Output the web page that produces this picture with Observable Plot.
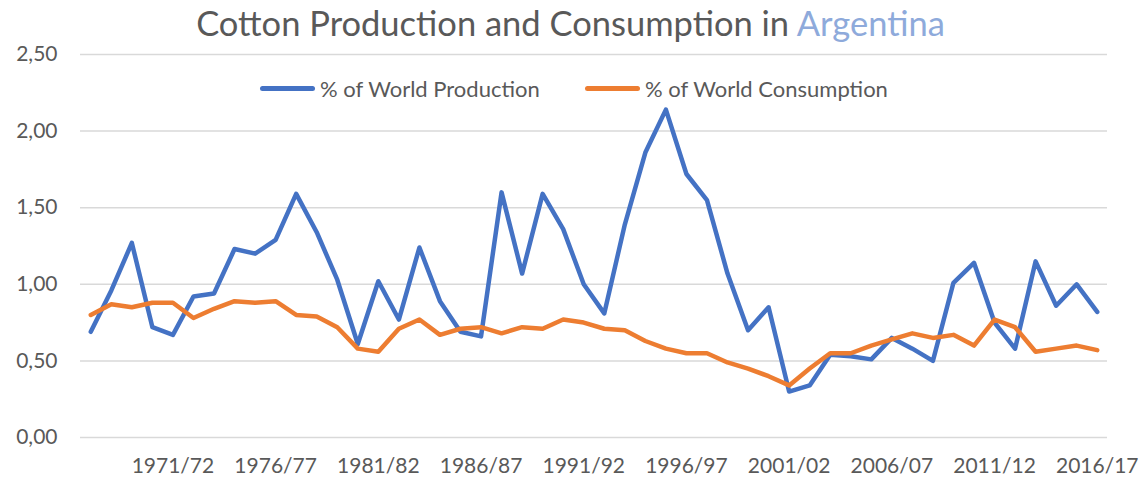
<!DOCTYPE html>
<html>
<head>
<meta charset="utf-8">
<script src="https://cdn.jsdelivr.net/npm/d3@7"></script>
<script src="https://cdn.jsdelivr.net/npm/@observablehq/plot@0.6"></script>
<style>
  html, body { margin: 0; padding: 0; background: #fff; }
  #wrap { position: relative; width: 1141px; height: 479px; font-family: Lato, "Open Sans", sans-serif; }
  #title { position: absolute; left: 0; width: 1141px; top: 2px; text-align: center; font-size: 34.5px; color: #595959; }
  #title span { color: #8EAADB; }
  .leg { position: absolute; top: 73px; font-size: 22px; color: #595959; display: flex; align-items: center; height: 30px; }
  .sw { display: inline-block; width: 55px; height: 5px; border-radius: 3px; margin-right: 5px; }
  #chart { position: absolute; left: 0; top: 0; }
</style>
</head>
<body>
<div id="wrap">
  <div id="chart"></div>
  <div id="title">Cotton Production and Consumption in <span>Argentina</span></div>
  <div class="leg" style="left:260px"><span class="sw" style="background:#4472C4"></span>% of World Production</div>
  <div class="leg" style="left:585px"><span class="sw" style="background:#ED7D31"></span>% of World Consumption</div>
</div>
<script>
// Seasons 1967/68 .. 2016/17
const seasons = [
  "1967/68","1968/69","1969/70","1970/71","1971/72","1972/73","1973/74","1974/75","1975/76","1976/77",
  "1977/78","1978/79","1979/80","1980/81","1981/82","1982/83","1983/84","1984/85","1985/86","1986/87",
  "1987/88","1988/89","1989/90","1990/91","1991/92","1992/93","1993/94","1994/95","1995/96","1996/97",
  "1997/98","1998/99","1999/00","2000/01","2001/02","2002/03","2003/04","2004/05","2005/06","2006/07",
  "2007/08","2008/09","2009/10","2010/11","2011/12","2012/13","2013/14","2014/15","2015/16","2016/17"
];
const production = [
  0.69,0.96,1.27,0.72,0.67,0.92,0.94,1.23,1.20,1.29,
  1.59,1.34,1.03,0.61,1.02,0.77,1.24,0.89,0.69,0.66,
  1.60,1.07,1.59,1.36,1.00,0.81,1.39,1.86,2.14,1.72,
  1.55,1.07,0.70,0.85,0.30,0.34,0.54,0.53,0.51,0.65,
  0.58,0.50,1.01,1.14,0.75,0.58,1.15,0.86,1.00,0.82
];
const consumption = [
  0.80,0.87,0.85,0.88,0.88,0.78,0.84,0.89,0.88,0.89,
  0.80,0.79,0.72,0.58,0.56,0.71,0.77,0.67,0.71,0.72,
  0.68,0.72,0.71,0.77,0.75,0.71,0.70,0.63,0.58,0.55,
  0.55,0.49,0.45,0.40,0.34,0.45,0.55,0.55,0.60,0.64,
  0.68,0.65,0.67,0.60,0.77,0.72,0.56,0.58,0.60,0.57
];
const xTickLabels = ["1971/72","1976/77","1981/82","1986/87","1991/92","1996/97","2001/02","2006/07","2011/12","2016/17"];
const yTicks = [0, 0.5, 1, 1.5, 2, 2.5];

const prodRows = seasons.map((s, i) => ({season: s, value: production[i]}));
const consRows = seasons.map((s, i) => ({season: s, value: consumption[i]}));

const chart = Plot.plot({
  width: 1141,
  height: 479,
  marginTop: 54,
  marginBottom: 42,
  marginLeft: 80,
  marginRight: 34,
  style: {fontFamily: "Lato, 'Open Sans', sans-serif", fontSize: "21px", color: "#595959", background: "transparent"},
  x: {type: "point", domain: seasons, padding: 0.5, round: false, label: null},
  y: {domain: [0, 2.5], label: null},
  marks: [
    Plot.gridY(yTicks, {stroke: "#d9d9d9", strokeOpacity: 1, strokeWidth: 1.5}),
    Plot.axisY(yTicks, {tickSize: 0, tickPadding: 23, tickFormat: d => d.toFixed(2).replace(".", ","), fill: "#595959", fontSize: 21, label: null}),
    Plot.axisX(xTickLabels, {tickSize: 0, tickPadding: 21, fill: "#595959", fontSize: 21, label: null}),
    Plot.line(prodRows, {x: "season", y: "value", stroke: "#4472C4", strokeWidth: 4.5, strokeLinejoin: "round", strokeLinecap: "round"}),
    Plot.line(consRows, {x: "season", y: "value", stroke: "#ED7D31", strokeWidth: 4.5, strokeLinejoin: "round", strokeLinecap: "round"})
  ]
});
document.getElementById("chart").appendChild(chart);
</script>
</body>
</html>
